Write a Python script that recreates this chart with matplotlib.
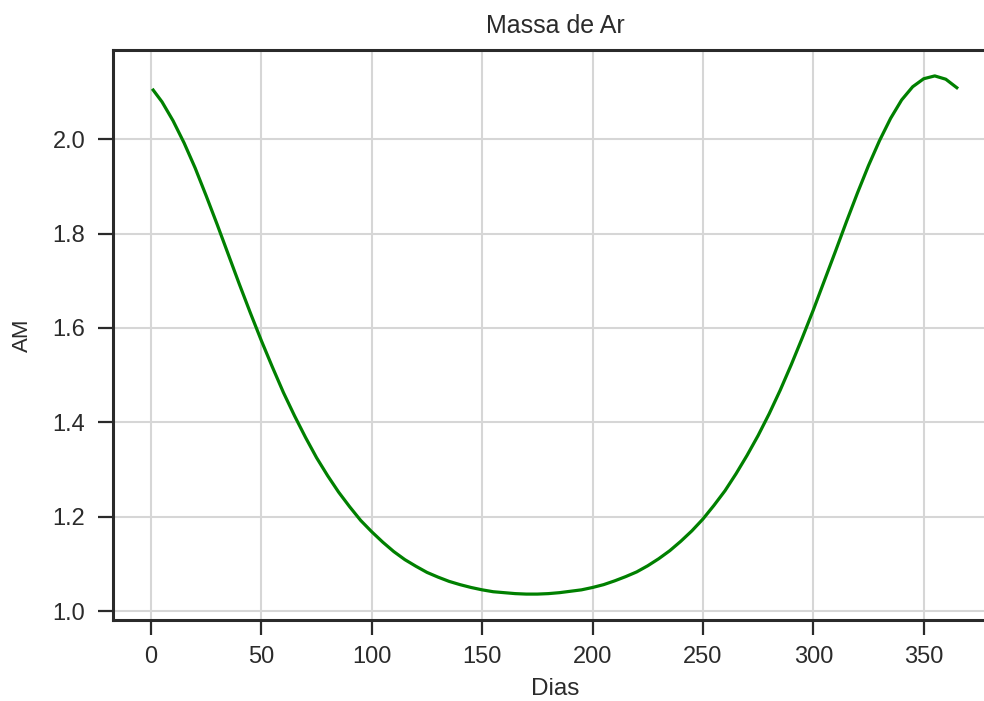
import matplotlib
matplotlib.use("Agg")
from matplotlib import pyplot as plt

# air mass at solar noon, by day of the year
days = [1, 5, 10, 15, 20, 25, 30, 35, 40, 45, 50, 55, 60, 65, 70, 75, 80, 85,
        90, 95, 100, 105, 110, 115, 120, 125, 130, 135, 140, 145, 150, 155,
        160, 165, 170, 175, 180, 185, 190, 195, 200, 205, 210, 215, 220, 225,
        230, 235, 240, 245, 250, 255, 260, 265, 270, 275, 280, 285, 290, 295,
        300, 305, 310, 315, 320, 325, 330, 335, 340, 345, 350, 355, 360, 365]
am = [2.104, 2.079, 2.039, 1.992, 1.939, 1.880, 1.819, 1.756, 1.693, 1.632,
      1.573, 1.517, 1.463, 1.414, 1.368, 1.325, 1.287, 1.252, 1.221, 1.192,
      1.168, 1.146, 1.126, 1.109, 1.095, 1.082, 1.072, 1.063, 1.056, 1.050,
      1.045, 1.041, 1.039, 1.037, 1.036, 1.036, 1.037, 1.039, 1.042, 1.045,
      1.050, 1.056, 1.064, 1.073, 1.083, 1.096, 1.111, 1.128, 1.148, 1.170,
      1.195, 1.224, 1.255, 1.291, 1.330, 1.372, 1.418, 1.468, 1.522, 1.579,
      1.638, 1.700, 1.762, 1.825, 1.886, 1.944, 1.997, 2.044, 2.083, 2.111,
      2.128, 2.134, 2.127, 2.109]

xticks = [0, 50, 100, 150, 200, 250, 300, 350]
yticks = [1.0, 1.2, 1.4, 1.6, 1.8, 2.0]

plt.rcParams['font.family'] = ['Liberation Sans', 'DejaVu Sans']
text_color = '#2b2b2b'

fig = plt.figure(figsize=(9.84, 7.01), dpi=100)
ax = fig.add_axes([113 / 984, 81 / 701, 884 / 984, 570 / 701])

ax.plot(days, am, color='green', linewidth=2.3, zorder=3)
ax.margins(x=0.05, y=0.05)

ax.set_xticks(xticks)
ax.set_yticks(yticks)
ax.set_yticklabels([f"{v:.1f}" for v in yticks])

ax.grid(True, color='#d6d6d6', linewidth=1.5)
ax.set_axisbelow(True)
for s in ax.spines.values():
    s.set_linewidth(2.2)
    s.set_color('#2a2a2a')

ax.tick_params(axis='both', direction='out', length=11, width=1.6,
               color='#2a2a2a', labelsize=17, labelcolor=text_color)
ax.tick_params(axis='x', pad=8)
ax.tick_params(axis='y', pad=9)

ax.set_title("Massa de Ar", fontsize=18, color=text_color, pad=12)
ax.set_xlabel("Dias", fontsize=17.5, color=text_color, labelpad=7)
ax.set_ylabel("AM", fontsize=16, color=text_color, labelpad=14)

fig.savefig("out.png", dpi=100)
